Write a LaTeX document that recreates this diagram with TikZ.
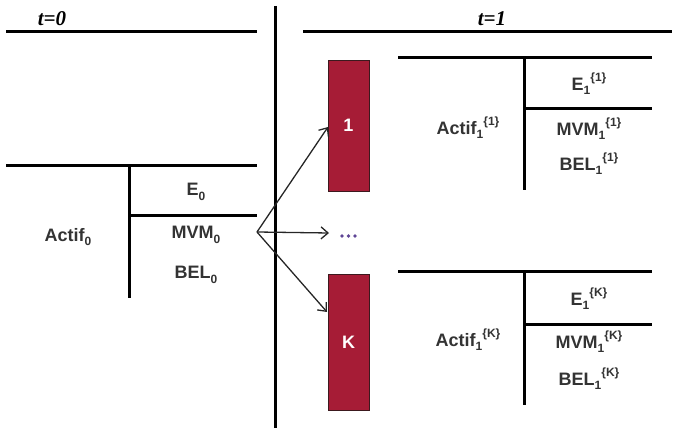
\documentclass[tikz,border=0pt]{standalone}
\usepackage{fontspec}
\setmainfont{Liberation Sans}
\newfontfamily\hdrfont{Liberation Serif}
\usetikzlibrary{arrows.meta}
\definecolor{boxred}{RGB}{166,28,54}
\definecolor{boxedge}{RGB}{60,25,30}
\definecolor{dotcol}{RGB}{95,70,150}
\newcommand\lowi[1]{\raisebox{-0.5ex}{\fontsize{12}{12}\selectfont #1}}
\newcommand\highi[1]{\raisebox{0.85ex}{\fontsize{12}{12}\selectfont #1}}
\tikzset{
  rule/.style={line width=3pt},
  lbl/.style={font=\fontsize{18}{21}\selectfont\bfseries, text=black!80, inner sep=0pt},
  hdr/.style={font=\hdrfont\fontsize{21}{24}\selectfont\bfseries\itshape, inner sep=0pt},
  scen/.style={draw=boxedge, line width=0.9pt, fill=boxred, minimum width=41pt,
    text=white, font=\fontsize{18}{21}\selectfont\bfseries, inner sep=0pt},
  arr/.style={line width=1.3pt, draw=black!85, -{Straight Barb[length=7pt,width=12pt,line width=1.3pt]}},
  dot/.style={circle, fill=dotcol, inner sep=0pt, minimum size=3.6pt}
}
\begin{document}
\begin{tikzpicture}[x=1pt,y=-1pt]
\useasboundingbox (0,0) rectangle (677,430);
% headers
\node[hdr] (h0) at (52,19) {t=0};
\node[hdr] (h1) at (492,19) {t=1};
\draw[rule] (6,32) -- (257,32);
\draw[rule] (303,32) -- (672,32);
\draw[rule] (275,6) -- (275,428);
% left T chart
\draw[rule] (6,166) -- (257,166);
\draw[rule] (129,166) -- (129,298);
\draw[rule] (129,216) -- (257,216);
\node[lbl] (e0) at (196,192) {E\lowi{0}};
\node[lbl] (m0) at (196,235) {MVM\lowi{0}};
\node[lbl] (b0) at (196,275) {BEL\lowi{0}};
\node[lbl] (a0) at (68,237) {Actif\lowi{0}};
% scenario boxes
\node[scen, minimum height=131pt] (s1) at (348.5,125.5) {1};
\node[scen, minimum height=136pt] (sK) at (348.5,342) {K};
% dots
\node[dot] (d1) at (342,236) {};
\node[dot] (d2) at (348.5,236) {};
\node[dot] (d3) at (355,236) {};
% arrows
\coordinate (o) at (257,232);
\coordinate (t1) at (328,127);
\coordinate (tm) at (329,233);
\coordinate (tK) at (327,312);
\draw[arr] (o) -- (t1);
\draw[arr] (o) -- (tm);
\draw[arr] (o) -- (tK);
% right top T chart
\draw[rule] (398,58) -- (652,58);
\draw[rule] (524,58) -- (524,190);
\draw[rule] (524,109) -- (652,109);
\node[lbl] (e1) at (589,84) {E\lowi{1}\highi{\{1\}}};
\node[lbl] (m1) at (589,129) {MVM\lowi{1}\highi{\{1\}}};
\node[lbl] (b1) at (589,164) {BEL\lowi{1}\highi{\{1\}}};
\node[lbl] (a1) at (468,128) {Actif\lowi{1}\highi{\{1\}}};
% right bottom T chart
\draw[rule] (398,272) -- (652,272);
\draw[rule] (524,272) -- (524,405);
\draw[rule] (524,324) -- (652,324);
\node[lbl] (eK) at (589,299) {E\lowi{1}\highi{\{K\}}};
\node[lbl] (mK) at (589,342) {MVM\lowi{1}\highi{\{K\}}};
\node[lbl] (bK) at (589,379) {BEL\lowi{1}\highi{\{K\}}};
\node[lbl] (aK) at (468,340) {Actif\lowi{1}\highi{\{K\}}};
\end{tikzpicture}
\end{document}
